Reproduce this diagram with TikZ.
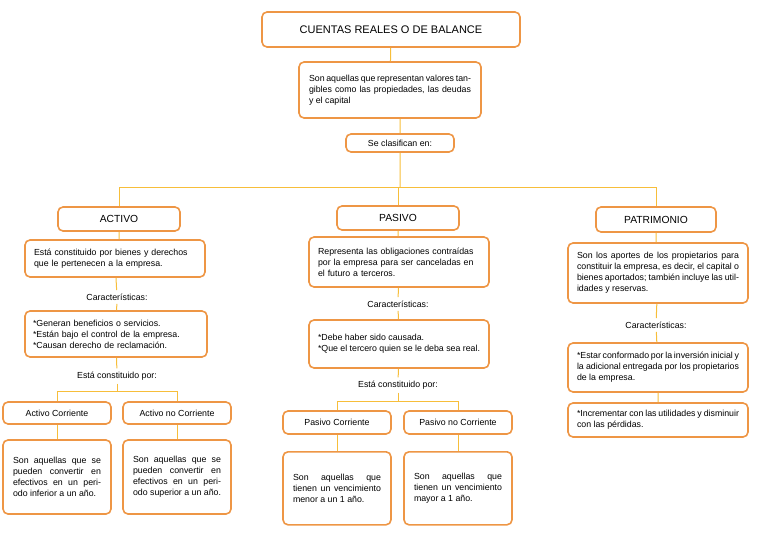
\documentclass[tikz,border=0pt]{standalone}
\usepackage{fontspec}
\setmainfont{Liberation Sans}
\definecolor{bord}{HTML}{EE9645}
\definecolor{lnc}{HTML}{F7BE3A}
\begin{document}
\begin{tikzpicture}[x=1pt,y=-1pt,
 box/.style={draw=bord,line width=1.6pt,rounded corners=5pt,fill=white,inner sep=4pt,font=\fontsize{8.8}{11}\selectfont},
 lbl/.style={font=\fontsize{8.8}{11}\selectfont},
 ln/.style={draw=lnc,line width=1pt}]
\useasboundingbox (0,0) rectangle (768,543);
\node[box,minimum width=258pt,minimum height=35pt,font=\fontsize{11}{13}\selectfont] (t) at (391,29.5) {CUENTAS REALES O DE BALANCE};
\node[box,minimum width=182pt,minimum height=56pt,text width=162pt,align=justify] (d) at (390,90) {Son aquellas que representan valores tangibles como las propiedades, las deudas y el capital};
\node[box,minimum width=108pt,minimum height=18pt,inner sep=2pt] (s) at (400,143) {Se clasifican en:};
\coordinate (h) at (400,187);
% ACTIVO
\node[box,minimum width=122pt,minimum height=24pt,font=\fontsize{10.3}{12}\selectfont] (a) at (119,219) {ACTIVO};
\node[box,minimum width=180pt,minimum height=37pt,text width=162pt,align=left] (ad) at (115,258.5) {Está constituido por bienes y derechos que le pertenecen a la empresa.};
\node[lbl] (ac) at (117,297) {Características:};
\node[box,minimum width=182pt,minimum height=46pt,text width=166pt,align=left] (acb) at (116,334) {*Generan beneficios o servicios.\\{}*Están bajo el control de la empresa.\\{}*Causan derecho de reclamación.};
\node[lbl] (ae) at (117,376) {Está constituido por:};
\node[box,minimum width=108pt,minimum height=22pt] (a1) at (57,413) {Activo Corriente};
\node[box,minimum width=108pt,minimum height=22pt] (a2) at (177,413) {Activo no Corriente};
\node[box,minimum width=108pt,minimum height=74pt,text width=88pt,align=justify] (a1d) at (57,477) {Son aquellas que se pueden convertir en efectivos en un periodo inferior a un año.};
\node[box,minimum width=108pt,minimum height=74pt,text width=88pt,align=justify] (a2d) at (177,477) {Son aquellas que se pueden convertir en efectivos en un periodo superior a un año.};
% PASIVO
\node[box,minimum width=122pt,minimum height=24pt,font=\fontsize{10.3}{12}\selectfont] (p) at (398,218) {PASIVO};
\node[box,minimum width=180pt,minimum height=50pt,text width=162pt,align=left] (pd) at (399,262) {Representa las obligaciones contraídas por la empresa para ser canceladas en el futuro a terceros.};
\node[lbl] (pc) at (398,304) {Características:};
\node[box,minimum width=180pt,minimum height=48pt,text width=162pt,align=justify] (pcb) at (399,344) {*Debe haber sido causada.\\{}*Que el tercero quien se le deba sea real.};
\node[lbl] (pe) at (398,385) {Está constituido por:};
\node[box,minimum width=108pt,minimum height=23pt] (p1) at (337,422.5) {Pasivo Corriente};
\node[box,minimum width=108pt,minimum height=23pt] (p2) at (458,422.5) {Pasivo no Corriente};
\node[box,minimum width=108pt,minimum height=73pt,text width=88pt,align=justify,anchor=north] (p1d) at (337,451) {Son aquellas que tienen un vencimiento menor a un 1 año.\par\vspace{14pt}};
\node[box,minimum width=108pt,minimum height=73pt,text width=88pt,align=justify,anchor=north] (p2d) at (458,451) {Son aquellas que tienen un vencimiento mayor a 1 año.\par\vspace{14pt}};
% PATRIMONIO
\node[box,minimum width=120pt,minimum height=25pt,font=\fontsize{10.3}{12}\selectfont] (q) at (656,219.5) {PATRIMONIO};
\node[box,minimum width=180pt,minimum height=60pt,text width=162pt,align=justify] (qd) at (658,273) {Son los aportes de los propietarios para constituir la empresa, es decir, el capital o bienes aportados; también incluye las utilidades y reservas.};
\node[lbl] (qc) at (656,325) {Características:};
\node[box,minimum width=180pt,minimum height=49pt,text width=162pt,align=justify] (qcb) at (658,367.5) {*Estar conformado por la inversión inicial y la adicional entregada por los propietarios de la empresa.};
\node[box,minimum width=180pt,minimum height=34pt,text width=162pt,align=justify] (qe) at (658,420) {*Incrementar con las utilidades y disminuir con las pérdidas.};
% connectors
\path[ln] (t) -- (d) (d.south-|s) -- (s) (s) -- (h);
\path[ln] (h) -| (a.north) (h) -| (q.north) (p.north) -- (p.north|-h);
\path[ln] (a) -- (a|-ad.north) (ad) -- (ac) (ac) -- (acb) (acb) -- (ae);
\path[ln] (ae.south) -- ++(0,8) coordinate (ab) (ab) -| (a1.north) (ab) -| (a2.north) (a1) -- (a1d) (a2) -- (a2d);
\path[ln] (p) -- (p|-pd.north) (pd) -- (pc) (pc) -- (pcb) (pcb) -- (pe);
\path[ln] (pe.south) -- ++(0,9) coordinate (pb) (pb) -| (p1.north) (pb) -| (p2.north) (p1) -- (p1d) (p2) -- (p2d);
\path[ln] (q) -- (q|-qd.north) (qd) -- (qc) (qc) -- (qcb) (qcb) -- (qe);
\end{tikzpicture}
\end{document}
